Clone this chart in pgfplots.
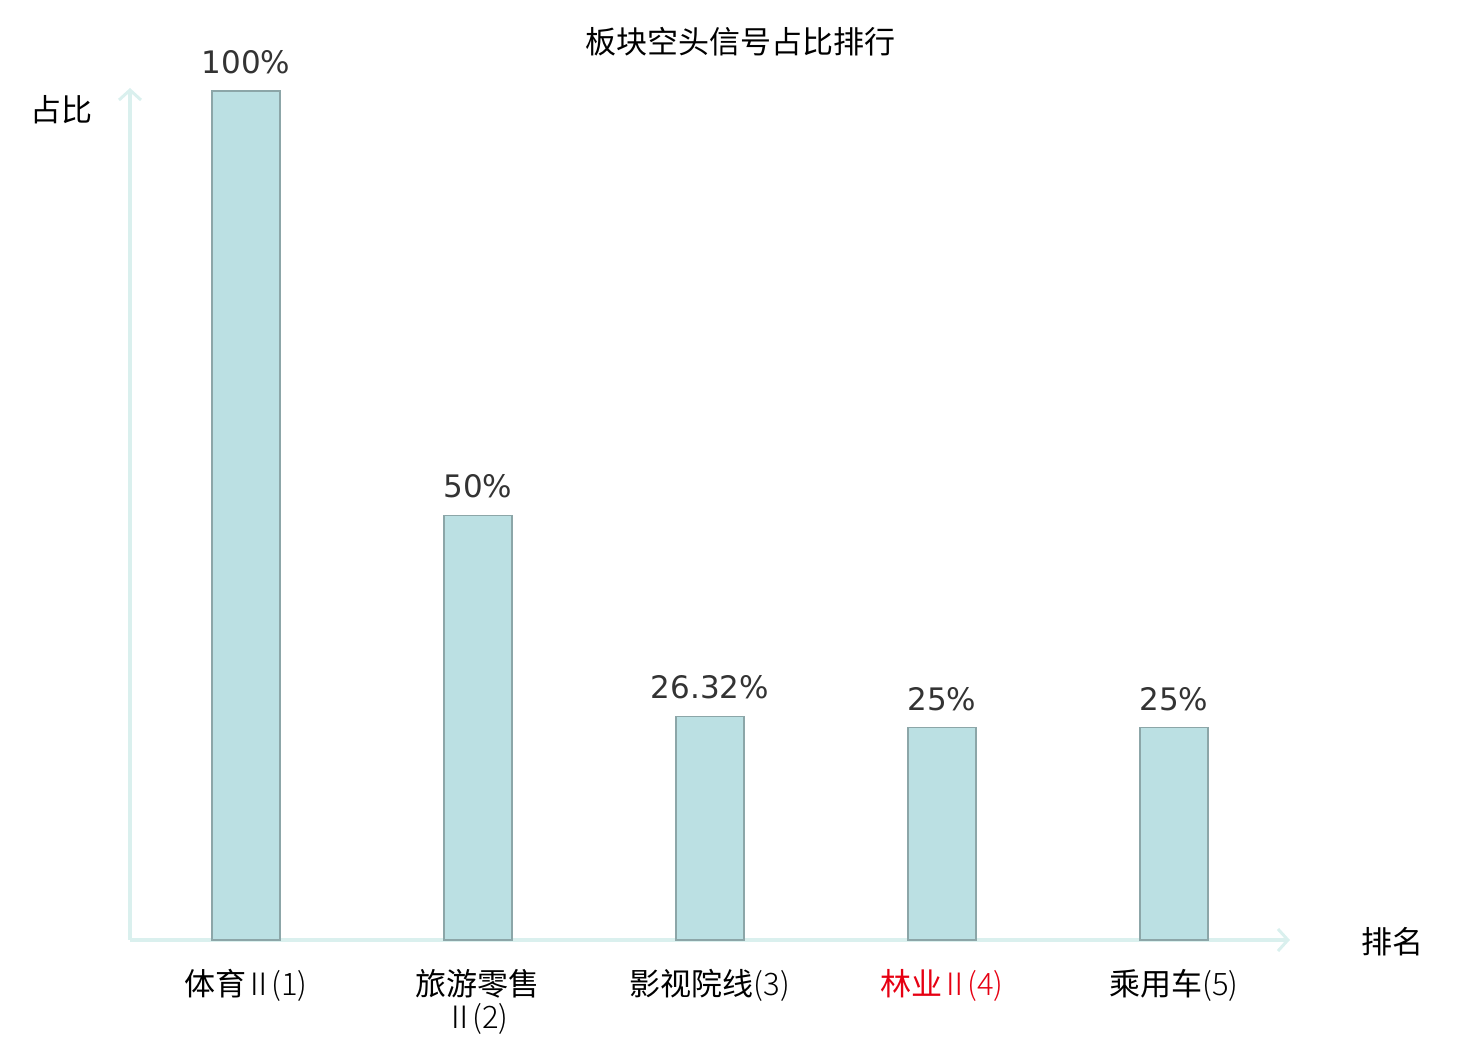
\documentclass[border=0pt]{standalone}
\usepackage{pgfplots}
\pgfplotsset{compat=1.18}
\usepackage{fontspec}
\usetikzlibrary{arrows.meta}
\setmainfont{Noto Sans CJK SC}
\newfontfamily\cjkl{Noto Sans CJK SC Light}
\newfontfamily\dejavu{DejaVu Sans}
\definecolor{barfill}{HTML}{BBE0E3}
\definecolor{bardraw}{HTML}{8CA6A8}
\definecolor{axcol}{HTML}{DAF0EE}
\definecolor{valcol}{HTML}{333333}
\definecolor{redlab}{HTML}{E60012}
\newcommand{\lt}[1]{{\cjkl #1}}
\newcommand{\rII}{\kern-1.5pt Ⅱ\kern-1.5pt}
\begin{document}
\begin{tikzpicture}[x=1pt,y=1pt]
\path[use as bounding box] (0,0) rectangle (740,520);
\begin{axis}[
  at={(65pt,50pt)}, anchor=origin,
  scale only axis,
  width=580pt, height=426pt,
  xmin=0.5, xmax=5.5, ymin=0, ymax=100.35,
  axis lines=left,
  axis line style={draw=axcol, line width=1.6pt, -{Straight Barb[length=5pt,width=11pt,line width=1.5pt]}},
  ytick=\empty,
  xtick={1,2,3,4,5},
  xticklabels={体育\lt{\rII(1)}, 旅游零售\\\lt{\rII(2)}, 影视院线\lt{(3)}, {\color{redlab}林业\lt{\rII(4)}}, 乘用车\lt{(5)}},
  xticklabel style={font=\fontsize{15.5}{16.5}\selectfont, align=center, anchor=north, yshift=-11pt},
  major tick length=0pt,
  ybar, bar width=34pt,
  /pgf/number format/assume math mode=true,
  nodes near coords={\pgfmathprintnumber[precision=2,1000 sep={}]{\pgfplotspointmeta}\%},
  nodes near coords style={font=\dejavu\fontsize{15.5}{16}\selectfont, text=valcol, anchor=south, yshift=5pt},
  clip=false,
]
\addplot[fill=barfill, draw=bardraw, line width=0.6pt] coordinates {(1,100) (2,50) (3,26.32) (4,25) (5,25)};
\end{axis}
\node[font=\fontsize{15.5}{16}\selectfont] at (370,499) {板块空头信号占比排行};
\node[font=\fontsize{15.5}{16}\selectfont] at (31,465) {占比};
\node[font=\fontsize{15.5}{16}\selectfont] at (696,49) {排名};
\end{tikzpicture}
\end{document}
